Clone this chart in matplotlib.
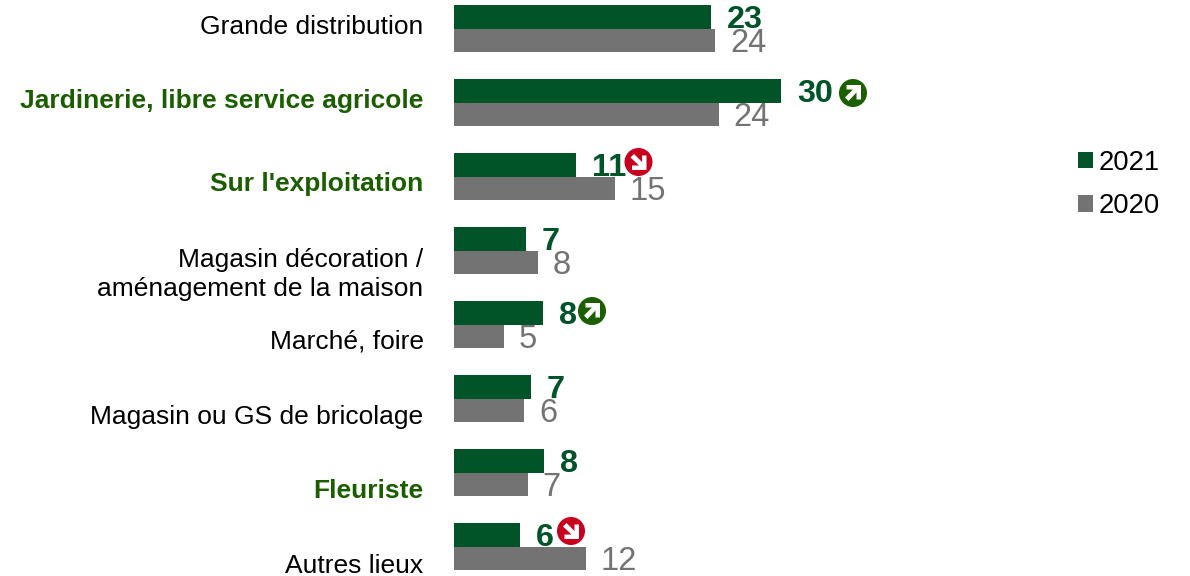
import matplotlib
matplotlib.use('Agg')
import matplotlib.pyplot as plt
from matplotlib.patches import Circle, Polygon
from matplotlib.transforms import Affine2D

plt.rcParams['font.family'] = ['Liberation Sans', 'DejaVu Sans']

categories = ['Grande distribution', 'Jardinerie, libre service agricole', "Sur l'exploitation",
              'Magasin décoration /\naménagement de la maison', 'Marché, foire',
              'Magasin ou GS de bricolage', 'Fleuriste', 'Autres lieux']
bold_categories = ['Jardinerie, libre service agricole', "Sur l'exploitation", 'Fleuriste']

# bar lengths, labels as printed
values_2021 = [23.6, 30.0, 11.15, 6.6, 8.2, 7.05, 8.25, 6.05]
values_2020 = [23.95, 24.3, 14.75, 7.7, 4.6, 6.45, 6.75, 12.1]
labels_2021 = ['23', '30', '11', '7', '8', '7', '8', '6']
labels_2020 = ['24', '24', '15', '8', '5', '6', '7', '12']
trends = [None, 'up', 'down', None, 'up', None, None, 'down']

GREEN = '#005428'
GREY = '#737373'
LABEL_GREEN = '#1a5e00'
ICON_GREEN = '#1c5f00'
ICON_RED = '#c8001e'

W, H = 1190, 576
PX_PER_UNIT = 10.9
ROW = 74.0

fig = plt.figure(figsize=(W / 100, H / 100), dpi=100)
ax = fig.add_axes([454 / W, 0, 1 - 454 / W, 1])
ax.set_xlim(0, (W - 454) / PX_PER_UNIT)
ax.set_ylim((H - 28.5) / ROW, -28.5 / ROW)
ax.axis('off')

ys = list(range(len(categories)))
h = 23.5 / ROW
ax.barh([y - h / 2 for y in ys], values_2021, height=h, color=GREEN, label='2021')
ax.barh([y + h / 2 for y in ys], values_2020, height=h, color=GREY, label='2020')

px = 72 / 100  # points per pixel

# category labels are not centred on their rows, shift in pixels
label_dy = [-1.5, -1.5, 7.5, 24, 16.5, 18, 18.5, 19.5]
for y, name, dy in zip(ys, categories, label_dy):
    bold = name in bold_categories
    ax.annotate(name, (0, y), xytext=(-30.5 * px, -dy * px), textcoords='offset points',
                ha='right', va='center', fontsize=19, linespacing=1.22,
                fontweight='bold' if bold else 'normal',
                color=LABEL_GREEN if bold else 'black', annotation_clip=False)

for y, v, t in zip(ys, values_2021, labels_2021):
    ax.annotate(t, (v, y - h / 2), xytext=(16 * px, -3 * px), textcoords='offset points',
                ha='left', va='center', fontsize=23.3, fontweight='bold', color=GREEN)
for y, v, t in zip(ys, values_2020, labels_2020):
    ax.annotate(t, (v, y + h / 2), xytext=(15 * px, -3.5 * px), textcoords='offset points',
                ha='left', va='center', fontsize=23.5, color=GREY)

# pixel overlay for the trend icons
ov = fig.add_axes([0, 0, 1, 1])
ov.set_xlim(0, W)
ov.set_ylim(H, 0)
ov.axis('off')
ov.patch.set_alpha(0)

icon_x = [0, 853, 638.5, 0, 592, 0, 0, 571]
icon_y = [0, 93, 162, 0, 311, 0, 0, 531]
arrow = [(-6.5, -8), (8, -8), (8, 6.5), (3.5, 6.5), (3.5, -0.5), (-4.5, 8), (-8, 4.5), (0, -3.5), (-6.5, -3.5)]
for x, y, tr in zip(icon_x, icon_y, trends):
    if tr is None:
        continue
    col = ICON_GREEN if tr == 'up' else ICON_RED
    ov.add_patch(Circle((x, y), 14, color=col, lw=0))
    rot = 0 if tr == 'up' else 90
    ov.add_patch(Polygon(arrow, closed=True, color='white', lw=0,
                         transform=Affine2D().rotate_deg(rot).translate(x, y) + ov.transData))

# legend
handles, names = ax.get_legend_handles_labels()
fig.legend(handles, names, loc='upper left', bbox_to_anchor=(1078 / W, 1 - 149.5 / H), frameon=False,
           fontsize=19.7, handlelength=0.55, handleheight=0.55, handletextpad=0.2,
           labelspacing=0.65, borderpad=0, borderaxespad=0)

fig.savefig('out.png', dpi=100)
